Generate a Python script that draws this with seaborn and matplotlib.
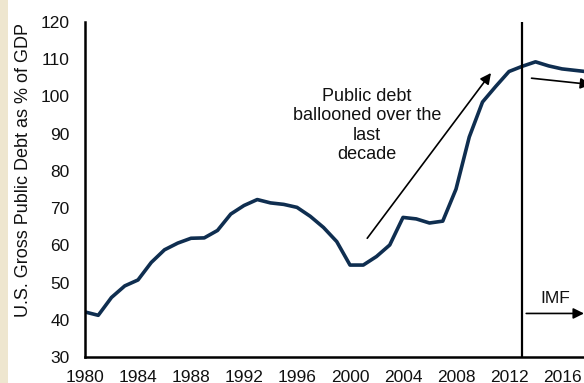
import matplotlib
matplotlib.use("Agg")
import matplotlib.pyplot as plt
import seaborn as sns
import pandas as pd
from matplotlib.patches import Rectangle

years = list(range(1980, 2019))
debt = [42.1, 41.2, 46.0, 49.1, 50.7, 55.4, 58.8, 60.6, 61.9, 62.0,
        64.0, 68.4, 70.7, 72.3, 71.4, 71.0, 70.2, 67.8, 64.8, 61.0,
        54.7, 54.7, 57.0, 60.1, 67.5, 67.1, 66.0, 66.5, 75.1, 89.1,
        98.5, 102.7, 106.7, 108.1, 109.3, 108.2, 107.4, 107.0, 106.6]
x_ticks = [1980, 1984, 1988, 1992, 1996, 2000, 2004, 2008, 2012, 2016]
y_ticks = [30, 40, 50, 60, 70, 80, 90, 100, 110, 120]
forecast_start = 2013
ylabel = "U.S. Gross Public Debt as % of GDP"
note = "Public debt\nballooned over the\nlast\ndecade"
imf_label = "IMF"

df = pd.DataFrame({"year": years, "debt": debt})

sns.set_theme(style="white")
plt.rcParams["font.family"] = ["Liberation Sans", "DejaVu Sans"]

fig = plt.figure(figsize=(5.84, 3.83), dpi=100)
fig.patch.set_facecolor("white")
fig.patches.append(Rectangle((0, 0), 8 / 584, 1, transform=fig.transFigure,
                             facecolor="#EEE6CF", edgecolor="none", zorder=0))

ax = fig.add_axes([85 / 584, 1 - 357 / 383, 1 - 85 / 584, (357 - 22) / 383])
sns.lineplot(data=df, x="year", y="debt", ax=ax, color="#0F2E50",
             linewidth=2.6, clip_on=True)

ax.set_xlim(1980, 2017.66)
ax.set_ylim(30, 120)
ax.set_xticks(x_ticks)
ax.set_yticks(y_ticks)
ax.tick_params(axis="both", length=0, labelsize=12.5, colors="#111111")
ax.tick_params(axis="x", pad=9)
ax.tick_params(axis="y", pad=11)
ax.set_xlabel("")
ax.set_ylabel("")
for s in ["top", "right"]:
    ax.spines[s].set_visible(False)
for s in ["left", "bottom"]:
    ax.spines[s].set_color("black")
    ax.spines[s].set_linewidth(1.8)

fig.text(24 / 584, 1 - 170 / 383, ylabel, rotation=90, ha="center",
         va="center", fontsize=13, color="#111111")

ax.axvline(forecast_start, color="black", linewidth=1.6)

ax.text(2001.26, 92.2, note, ha="center", va="center", fontsize=13,
        color="#111111", linespacing=1.18)
ax.annotate("", xy=(2010.64, 106.3), xytext=(2001.3, 61.9),
            arrowprops=dict(arrowstyle="-|>", color="black", lw=1.2,
                            mutation_scale=16, shrinkA=0, shrinkB=0),
            annotation_clip=False)

ax.text(2015.5, 45.6, imf_label, ha="center", va="center", fontsize=12.5,
        color="#111111")
ax.annotate("", xy=(2017.66, 41.7), xytext=(2013.3, 41.7),
            arrowprops=dict(arrowstyle="-|>", color="black", lw=1.2,
                            mutation_scale=16, shrinkA=0, shrinkB=0),
            annotation_clip=False)
ax.annotate("", xy=(2018.2, 103.2), xytext=(2013.7, 104.9),
            arrowprops=dict(arrowstyle="-|>", color="black", lw=1.2,
                            mutation_scale=16, shrinkA=0, shrinkB=0),
            annotation_clip=False)

fig.savefig("out.png", dpi=100)
